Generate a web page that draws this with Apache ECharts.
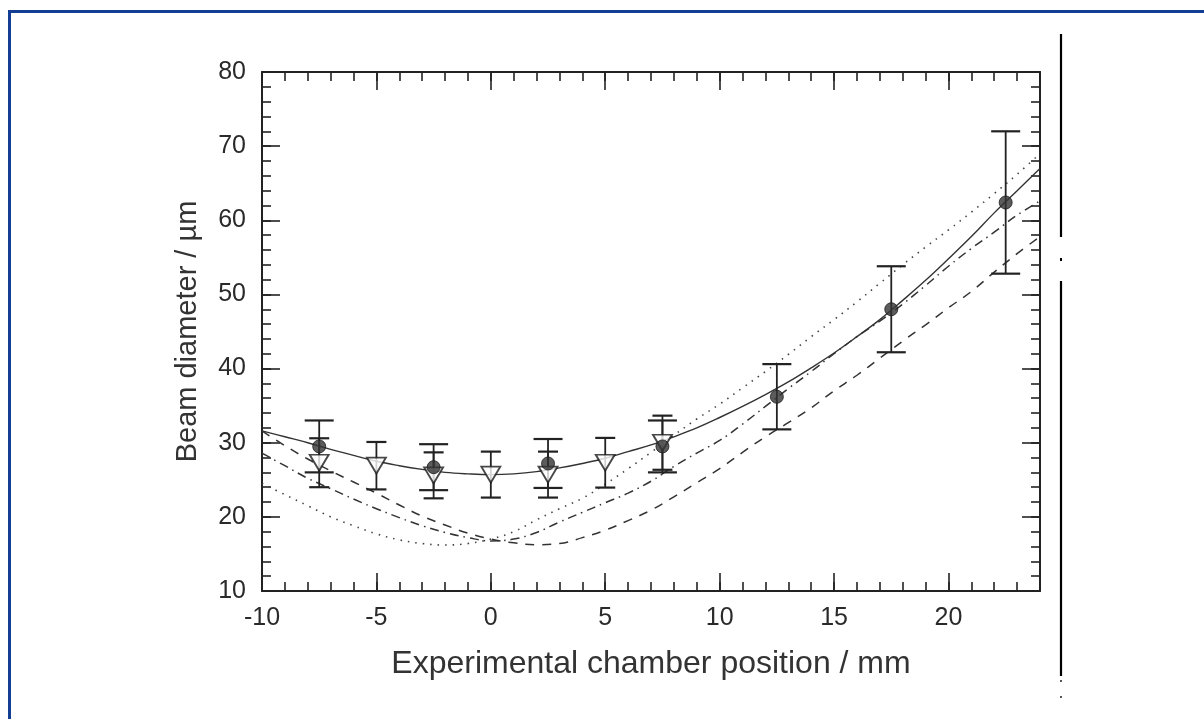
<!DOCTYPE html>
<html><head><meta charset="utf-8">
<script src="https://cdn.jsdelivr.net/npm/echarts@6/dist/echarts.min.js"></script>
<style>
html,body{margin:0;padding:0;background:#fff;overflow:hidden;width:1204px;height:719px}
#frame{position:absolute;left:8px;top:10px;width:1400px;height:900px;border-left:3px solid #123f94;border-top:3px solid #123f94;box-sizing:border-box}
#chart{position:absolute;left:0;top:0;width:1204px;height:719px}
</style></head><body>
<div id="frame"></div>
<div id="chart"></div>
<script>
// ---- data ----
const curveX = [-10,-9,-8,-7,-6,-5,-4,-3,-2,-1,0,1,2,3,4,5,6,7,8,9,10,11,12,13,14,15,16,17,18,19,20,21,22,23,24];
const fitSolid = [31.6,30.8,30.0,29.1,28.3,27.5,26.9,26.4,26.0,25.8,25.7,25.8,26.1,26.6,27.2,27.9,28.8,29.7,30.8,32.0,33.4,34.9,36.5,38.2,40.1,42.1,44.3,46.6,49.2,51.9,54.8,57.8,61.0,64.0,67.0];
const modelDotted = [24.5,23.0,21.5,20.0,18.8,17.7,16.9,16.4,16.2,16.4,17.0,18.0,19.6,21.1,22.5,24.4,26.5,28.7,31.0,33.2,35.2,37.4,39.6,41.9,44.3,46.6,49.0,51.5,54.0,56.4,58.7,61.1,63.6,66.2,69.0];
const modelDashDot = [28.6,26.9,25.2,23.8,22.4,21.1,19.9,18.8,17.9,17.2,16.75,17.0,17.9,19.3,20.6,21.9,23.2,24.8,26.8,28.6,30.3,32.5,34.9,37.3,39.6,42.0,44.3,46.4,48.7,51.2,53.8,56.2,58.4,60.7,62.6];
const modelDashed = [31.6,29.6,27.8,26.2,24.7,23.2,21.6,20.1,18.9,17.8,17.0,16.5,16.25,16.4,17.2,18.2,19.5,20.9,22.7,24.6,26.5,28.7,30.8,32.7,34.7,37.0,39.1,41.4,43.7,45.9,48.2,50.4,53.0,55.5,57.8];

const circleX = [-7.5,-2.5,2.5,7.5,12.5,17.5,22.5];
const circleY = [29.5,26.7,27.2,29.5,36.2,48.0,62.4];
const circleErr = [3.5,3.1,3.3,3.5,4.4,5.8,9.6];

const triX = [-7.5,-5,-2.5,0,2.5,5,7.5];
const triY = [27.3,26.9,25.6,25.7,25.7,27.3,30.0];
const triErr = [3.3,3.2,3.1,3.1,3.1,3.35,3.65];

const xTickLabels = [-10,-5,0,5,10,15,20];
const yTickLabels = [10,20,30,40,50,60,70,80];

// ---- build ----
const pair = (xs, ys) => xs.map((x,i)=>[x, ys[i]]);
const errData = (xs, ys, es) => xs.map((x,i)=>[x, ys[i]-es[i], ys[i]+es[i]]);
const INK = '#222';
function errRender(capHalf){
  return function(params, api){
    const x = api.value(0), lo = api.value(1), hi = api.value(2);
    const a = api.coord([x, lo]), b = api.coord([x, hi]);
    const st = {stroke: INK, lineWidth: 1.8};
    return {type:'group', children:[
      {type:'line', shape:{x1:a[0],y1:a[1],x2:b[0],y2:b[1]}, style:st},
      {type:'line', shape:{x1:a[0]-capHalf,y1:a[1],x2:a[0]+capHalf,y2:a[1]}, style:{stroke:INK,lineWidth:2.2}},
      {type:'line', shape:{x1:b[0]-capHalf,y1:b[1],x2:b[0]+capHalf,y2:b[1]}, style:{stroke:INK,lineWidth:2.2}}
    ]};
  };
}
const FONT = '"Liberation Sans", Arial, Helvetica, sans-serif';
const xLab = v => xTickLabels.indexOf(v) >= 0 ? String(v) : '';
const yLab = v => yTickLabels.indexOf(v) >= 0 ? String(v) : '';
const baseX = (pos, interval, len, showLine, showLabel, extra) => Object.assign({
  type:'value', min:-10, max:24, interval: interval, position: pos,
  axisLine:{show:showLine, onZero:false, lineStyle:{color:INK, width:2}},
  axisTick:{show:true, inside:true, length:len, lineStyle:{color:INK, width:1.6}},
  axisLabel:{show:showLabel, fontSize:25, color:'#2a2a2a', fontFamily:FONT, margin:15, showMaxLabel:false, formatter:xLab},
  splitLine:{show:false}
}, extra||{});
const baseY = (pos, interval, len, showLine, showLabel, extra) => Object.assign({
  type:'value', min:10, max:80, interval: interval, position: pos,
  axisLine:{show:showLine, onZero:false, lineStyle:{color:INK, width:2}},
  axisTick:{show:true, inside:true, length:len, lineStyle:{color:INK, width:1.6}},
  axisLabel:{show:showLabel, fontSize:25, color:'#2a2a2a', fontFamily:FONT, margin:16, formatter:yLab},
  splitLine:{show:false}
}, extra||{});

const chart = echarts.init(document.getElementById('chart'), null, {renderer:'canvas'});
chart.setOption({
  backgroundColor:'transparent',
  animation:false,
  grid:{left:262, top:72, right:164, bottom:128, containLabel:false},
  xAxis:[
    baseX('bottom',5,18,true,true,{name:'Experimental chamber position / mm', nameLocation:'middle', nameGap:57,
      nameTextStyle:{fontSize:32, color:'#333', fontFamily:FONT}}),
    baseX('bottom',1,9,false,false),
    baseX('top',5,18,true,false),
    baseX('top',1,9,false,false)
  ],
  yAxis:[
    baseY('left',10,18,true,true,{name:'Beam diameter / µm', nameLocation:'middle', nameGap:60,
      nameTextStyle:{fontSize:29, color:'#333', fontFamily:FONT}}),
    baseY('left',2,9,false,false),
    baseY('right',10,18,true,false),
    baseY('right',2,9,false,false)
  ],
  graphic:[
    {type:'line', shape:{x1:1061,y1:34,x2:1061,y2:237}, style:{stroke:'#000', lineWidth:2.2}},
    {type:'rect', shape:{x:1060,y:258,width:2,height:3}, style:{fill:'#000'}},
    {type:'line', shape:{x1:1061,y1:281,x2:1061,y2:676}, style:{stroke:'#000', lineWidth:2.2}},
    {type:'rect', shape:{x:1060,y:680,width:2,height:2}, style:{fill:'#555'}},
    {type:'rect', shape:{x:1060,y:696,width:2,height:2}, style:{fill:'#555'}}
  ],
  series:[
    {type:'line', name:'fit', data:pair(curveX, fitSolid), smooth:0.4, showSymbol:false, z:3,
      lineStyle:{color:'#333', width:1.4}},
    {type:'line', name:'dotted', data:pair(curveX, modelDotted), smooth:0.4, showSymbol:false, z:2,
      lineStyle:{color:'#444', width:1.6, type:[1.5,6]}},
    {type:'line', name:'dashdot', data:pair(curveX, modelDashDot), smooth:0.4, showSymbol:false, z:2,
      lineStyle:{color:'#333', width:1.5, type:[9,5,1.5,5]}},
    {type:'line', name:'dashed', data:pair(curveX, modelDashed), smooth:0.4, showSymbol:false, z:2,
      lineStyle:{color:'#333', width:1.5, type:[9,8]}},
    {type:'custom', name:'triErr', data:errData(triX, triY, triErr), renderItem:errRender(10), z:4,
      encode:{x:0, y:[1,2]}},
    {type:'custom', name:'circErr', data:errData(circleX, circleY, circleErr), renderItem:errRender(14.5), z:4,
      encode:{x:0, y:[1,2]}},
    {type:'scatter', name:'tri', data:pair(triX, triY), symbol:'triangle', symbolRotate:180, symbolSize:[19,16], z:5,
      itemStyle:{color:'#fff', borderColor:'#1a1a1a', borderWidth:1.8}},
    {type:'scatter', name:'circ', data:pair(circleX, circleY), symbol:'circle', symbolSize:13, z:6,
      itemStyle:{color:'#333', borderColor:'#1a1a1a', borderWidth:1}}
  ]
});
</script>
</body></html>
